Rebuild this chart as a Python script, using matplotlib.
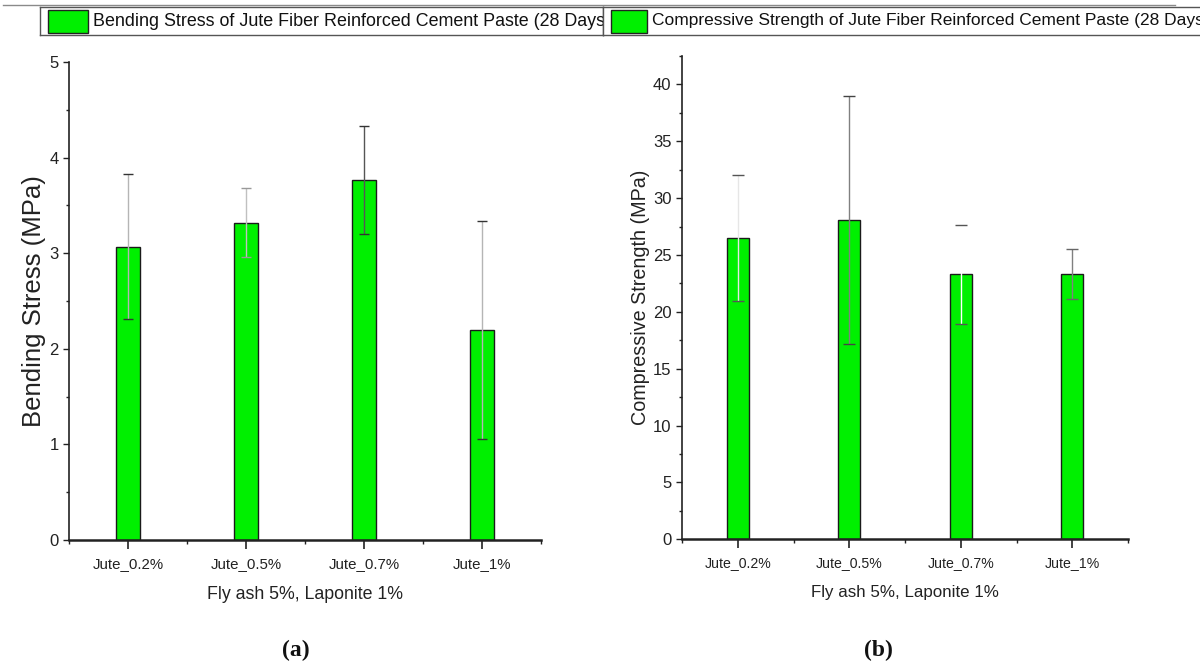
import matplotlib
matplotlib.use("Agg")
import matplotlib.pyplot as plt
from matplotlib.patches import Rectangle
from matplotlib.lines import Line2D
from matplotlib.ticker import FixedLocator, MultipleLocator

# ---- data -------------------------------------------------------------
categories = ["Jute_0.2%", "Jute_0.5%", "Jute_0.7%", "Jute_1%"]
bending_mean = [3.07, 3.32, 3.77, 2.20]
bending_err = [0.76, 0.36, 0.565, 1.14]
compressive_mean = [26.5, 28.1, 23.3, 23.3]
compressive_err = [5.55, 10.9, 4.33, 2.21]

x_title = "Fly ash 5%, Laponite 1%"
bending_ylabel = "Bending Stress (MPa)"
compressive_ylabel = "Compressive Strength (MPa)"
bending_legend = "Bending Stress of Jute Fiber Reinforced Cement Paste (28 Days)"
compressive_legend = "Compressive Strength of Jute Fiber Reinforced Cement Paste (28 Days)"
panel_tags = ["(a)", "(b)"]

# ---- fonts ------------------------------------------------------------
SANS = "Liberation Sans"
SERIF = "Liberation Serif"
plt.rcParams["font.family"] = [SANS, "DejaVu Sans"]

BAR_GREEN = "#00F000"
INK = "#222222"
W, H = 1200, 664

fig = plt.figure(figsize=(W / 100, H / 100), dpi=100)


def fx(px):
    return px / W


def fy(py):
    return 1 - py / H


def panel(rect, means, errs, ylim, ymajor, ylabel, ylabel_size, tick_size,
          xtick_size, xlabel_size, line_cols, cap_cols, capsize):
    ax = fig.add_axes(rect)
    xs = list(range(1, len(categories) + 1))
    ax.bar(xs, means, width=0.2, color=BAR_GREEN, edgecolor="#1a1a1a",
           linewidth=1.0, zorder=2)
    for x, m, e, lc, cc in zip(xs, means, errs, line_cols, cap_cols):
        eb = ax.errorbar(x, m, yerr=e, fmt="none", ecolor=lc, elinewidth=1.0,
                         capsize=capsize, capthick=1.0, zorder=3)
        for cap in eb[1]:
            cap.set_color(cc)
            cap.set_markeredgecolor(cc)
    ax.set_xlim(0.5, len(categories) + 0.5)
    ax.set_ylim(*ylim)
    ax.set_xticks(xs)
    ax.set_xticklabels(categories, fontsize=xtick_size)
    ax.xaxis.set_minor_locator(FixedLocator([i + 0.5 for i in range(len(categories) + 1)]))
    ax.yaxis.set_major_locator(MultipleLocator(ymajor))
    ax.yaxis.set_minor_locator(MultipleLocator(ymajor / 2))
    ax.tick_params(axis="y", which="major", length=4.5, width=1.0, labelsize=tick_size,
                   pad=3, color=INK, labelcolor=INK)
    ax.tick_params(axis="y", which="minor", length=2.5, width=1.0, color=INK)
    ax.tick_params(axis="x", which="major", length=6.5, width=1.2, pad=5.5,
                   color=INK, labelcolor=INK)
    ax.tick_params(axis="x", which="minor", length=3, width=1.0, color=INK)
    for side in ("top", "right"):
        ax.spines[side].set_visible(False)
    ax.spines["left"].set_linewidth(1.2)
    ax.spines["bottom"].set_linewidth(1.8)
    ax.spines["left"].set_color(INK)
    ax.spines["bottom"].set_color(INK)
    ax.set_ylabel(ylabel, fontsize=ylabel_size, color=INK)
    ax.set_xlabel(x_title, fontsize=xlabel_size, color=INK, labelpad=11)
    return ax


ax_a = panel([fx(69), fy(540), fx(541 - 69), (540 - 62) / H],
             bending_mean, bending_err, (0, 5), 1, bending_ylabel, 18.5, 12, 10.8, 12.8,
             ["#b5b5b5", "#c0c0c0", "#555555", "#b5b5b5"],
             ["#333333", "#999999", "#333333", "#333333"], 3.5)
ax_a.yaxis.set_label_coords((46 - 69) / (541 - 69), 0.5)

ax_b = panel([fx(682), fy(539.3), fx(1128 - 682), (539.3 - 56) / H],
             compressive_mean, compressive_err, (0, 42.5), 5, compressive_ylabel, 14.2, 12,
             10.2, 12.2,
             ["#e6e6e6", "#808080", "#ffffff", "#808080"],
             ["#555555", "#444444", "#555555", "#666666"], 4)
ax_b.yaxis.set_label_coords((650 - 682) / (1128 - 682), 0.5)

# panel tags under each chart
fig.text(fx(296), fy(650), panel_tags[0], fontsize=17, family=[SERIF], weight="bold",
         ha="center", va="center", color="#111111")
fig.text(fx(878), fy(650), panel_tags[1], fontsize=17, family=[SERIF], weight="bold",
         ha="center", va="center", color="#111111")

# rule across the very top
fig.add_artist(Line2D([fx(3), fx(1175)], [fy(5), fy(5)], color="#8a8a8a", lw=1.0))


def legend_box(x0, x1, text, patch_x, patch_w, text_x, size):
    lax = fig.add_axes([fx(x0), fy(35), fx(x1 - x0), 28 / H])
    lax.set_xlim(0, x1 - x0)
    lax.set_ylim(0, 28)
    lax.set_xticks([])
    lax.set_yticks([])
    for sp in lax.spines.values():
        sp.set_color("#555555")
        sp.set_linewidth(1.0)
    lax.add_patch(Rectangle((patch_x, 2.5), patch_w, 23, facecolor=BAR_GREEN,
                            edgecolor=INK, linewidth=1.0))
    lax.text(text_x, 14, text, fontsize=size, va="center", ha="left",
             color="#111111", clip_on=True)
    return lax


legend_box(40, 603, bending_legend, 8, 40, 53, 12.9)
legend_box(603, 1215, compressive_legend, 8, 36, 49, 12.5)

fig.savefig("out.png", dpi=100)
